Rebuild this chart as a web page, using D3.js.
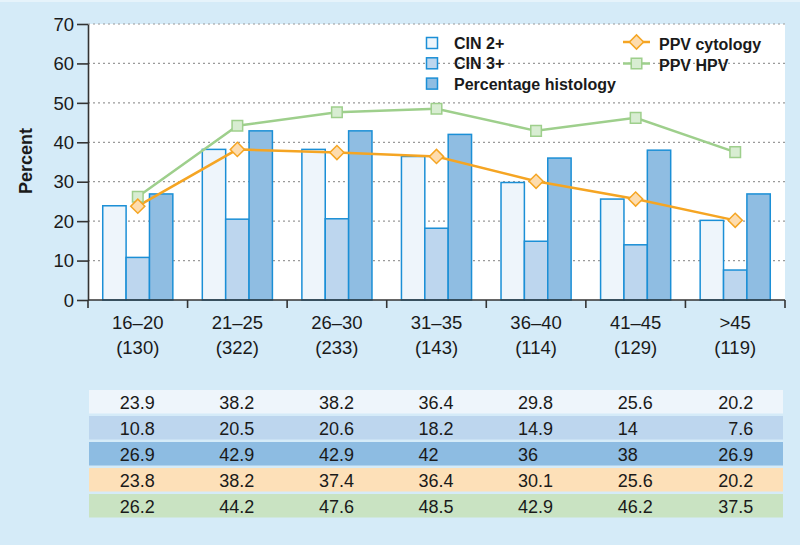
<!DOCTYPE html>
<html>
<head>
<meta charset="utf-8">
<script src="https://cdn.jsdelivr.net/npm/d3@7"></script>
<style>
  html, body { margin: 0; padding: 0; background: #d5ebf8; }
  svg { display: block; }
  text { font-family: "Liberation Sans", Arial, sans-serif; fill: #1a1a1a; }
</style>
</head>
<body>
<svg id="chart" width="800" height="545"></svg>
<script>
// ---- data ----
const ageGroups = ["16–20", "21–25", "26–30", "31–35", "36–40", "41–45", ">45"];
const counts = ["(130)", "(322)", "(233)", "(143)", "(114)", "(129)", "(119)"];
const cin2 = [23.9, 38.2, 38.2, 36.4, 29.8, 25.6, 20.2];
const cin3 = [10.8, 20.5, 20.6, 18.2, 14.9, 14, 7.6];
const histology = [26.9, 42.9, 42.9, 42, 36, 38, 26.9];
const ppvCytology = [23.8, 38.2, 37.4, 36.4, 30.1, 25.6, 20.2];
const ppvHpv = [26.2, 44.2, 47.6, 48.5, 42.9, 46.2, 37.5];
const yTicks = [0, 10, 20, 30, 40, 50, 60, 70];
const barSeriesNames = ["CIN 2+", "CIN 3+", "Percentage histology"];
const lineSeriesNames = ["PPV cytology", "PPV HPV"];

// ---- styles ----
const barFills = ["#eef5fb", "#bdd6ee", "#8fbde2"];
const barStroke = "#1b8fd6";
const orange = "#f5a523", orangeFill = "#fddcae";
const green = "#9ecf8c", greenFill = "#d8edd2";
const rowFills = ["#eef5fb", "#bdd6ee", "#8dbce2", "#fde0b8", "#c9e3c2"];

const svg = d3.select("#chart");
const mLeft = 88, mRight = 785, mTop = 24, mBottom = 300;

// thin lighter frame at the top edge
svg.append("rect").attr("x", 0).attr("y", 0).attr("width", 800).attr("height", 2).attr("fill", "#e6f3fb");

const x = d3.scaleBand().domain(ageGroups).range([mLeft, mRight]);
const bw = x.bandwidth();
const x1 = d3.scaleBand().domain([0, 1, 2]).range([bw * 0.148, bw * 0.852]);
const y = d3.scaleLinear().domain([0, 70]).range([mBottom, mTop]);

// plot background
svg.append("rect").attr("x", mLeft).attr("y", y(70)).attr("width", mRight - mLeft)
  .attr("height", y(0) - y(70)).attr("fill", "#ffffff");

// gridlines
svg.append("g").selectAll("line").data(yTicks.filter(d => d > 0)).join("line")
  .attr("x1", mLeft).attr("x2", mRight)
  .attr("y1", d => y(d)).attr("y2", d => y(d))
  .attr("stroke", "#9a9a9a").attr("stroke-width", 1.2)
  .attr("stroke-dasharray", "2,3");

// bars
const barData = [cin2, cin3, histology];
const groups = svg.append("g").selectAll("g").data(ageGroups).join("g")
  .attr("transform", d => `translate(${x(d)},0)`);
groups.selectAll("rect").data((d, i) => barData.map((s, k) => ({k, v: s[i]}))).join("rect")
  .attr("x", d => x1(d.k)).attr("width", x1.bandwidth())
  .attr("y", d => y(d.v)).attr("height", d => y(0) - y(d.v))
  .attr("fill", d => barFills[d.k]).attr("stroke", barStroke).attr("stroke-width", 1.5);

// lines
const line = d3.line().x((d, i) => x(ageGroups[i]) + bw / 2).y(d => y(d));
svg.append("path").datum(ppvHpv).attr("d", line).attr("fill", "none")
  .attr("stroke", green).attr("stroke-width", 2.5);
svg.append("path").datum(ppvCytology).attr("d", line).attr("fill", "none")
  .attr("stroke", orange).attr("stroke-width", 2.5);

const sq = d3.symbol().type(d3.symbolSquare).size(112);
const dm = d3.symbol().type(d3.symbolSquare).size(100); // rotated 45° => square diamond
svg.append("g").selectAll("path").data(ppvHpv).join("path")
  .attr("d", sq).attr("transform", (d, i) => `translate(${x(ageGroups[i]) + bw / 2},${y(d)})`)
  .attr("fill", greenFill).attr("stroke", green).attr("stroke-width", 1.5);
svg.append("g").selectAll("path").data(ppvCytology).join("path")
  .attr("d", dm).attr("transform", (d, i) => `translate(${x(ageGroups[i]) + bw / 2},${y(d)}) rotate(45)`)
  .attr("fill", orangeFill).attr("stroke", orange).attr("stroke-width", 1.5);

// y axis (line + ticks from the axis generator, labels set explicitly)
const yAxis = svg.append("g").attr("transform", `translate(${mLeft},0)`)
  .call(d3.axisLeft(y).tickValues(yTicks).tickSize(11).tickSizeOuter(0).tickFormat(""));
yAxis.select(".domain").attr("stroke", "#333").attr("stroke-width", 1.6);
yAxis.selectAll(".tick line").attr("stroke", "#333").attr("stroke-width", 1.6);
svg.append("g").selectAll("text").data(yTicks).join("text")
  .attr("x", mLeft - 14).attr("y", d => y(d)).attr("dy", "0.36em")
  .attr("text-anchor", "end").style("font-size", "18.5px").text(d => d);

// x axis
const xAxisG = svg.append("g");
xAxisG.append("line").attr("x1", mLeft).attr("x2", mRight).attr("y1", mBottom).attr("y2", mBottom)
  .attr("stroke", "#333").attr("stroke-width", 1.6);
const boundaries = ageGroups.map(d => x(d)).concat([x(ageGroups[ageGroups.length - 1]) + bw]);
xAxisG.selectAll("line.tk").data(boundaries).join("line").attr("class", "tk")
  .attr("x1", d => d).attr("x2", d => d).attr("y1", mBottom).attr("y2", mBottom + 8)
  .attr("stroke", "#333").attr("stroke-width", 1.6);
const xl = svg.append("g").selectAll("text").data(ageGroups).join("text")
  .attr("x", d => x(d) + bw / 2).attr("text-anchor", "middle").style("font-size", "18.5px");
xl.append("tspan").attr("x", d => x(d) + bw / 2).attr("y", 329).text(d => d);
xl.append("tspan").attr("x", d => x(d) + bw / 2).attr("y", 354).text((d, i) => counts[i]);

// y title
svg.append("text").attr("transform", "translate(32,161) rotate(-90)")
  .attr("text-anchor", "middle").style("font-size", "18px").attr("font-weight", "bold").text("Percent");

// legend (bars)
const lg = svg.append("g");
barSeriesNames.forEach((name, k) => {
  const yy = 37.5 + k * 20.3;
  lg.append("rect").attr("x", 426.5).attr("y", yy).attr("width", 11).attr("height", 11)
    .attr("fill", barFills[k]).attr("stroke", barStroke).attr("stroke-width", 1.5);
  lg.append("text").attr("x", 454).attr("y", yy + 11.5).style("font-size", "16px")
    .attr("font-weight", "bold").text(name);
});
// legend (lines)
const lineCols = [[orange, orangeFill, dm, 45], [green, greenFill, sq, 0]];
lineSeriesNames.forEach((name, k) => {
  const yy = 42 + k * 21.5;
  const [c, f, sym, rot] = lineCols[k];
  lg.append("line").attr("x1", 623).attr("x2", 650).attr("y1", yy).attr("y2", yy)
    .attr("stroke", c).attr("stroke-width", 2.5);
  lg.append("path").attr("d", sym).attr("transform", `translate(636.5,${yy}) rotate(${rot})`)
    .attr("fill", f).attr("stroke", c).attr("stroke-width", 1.5);
  lg.append("text").attr("x", 659).attr("y", yy + 7.5).style("font-size", "16px")
    .attr("font-weight", "bold").text(name);
});

// data table
const tableRows = [cin2, cin3, histology, ppvCytology, ppvHpv];
const tg = svg.append("g");
tableRows.forEach((row, r) => {
  const ry = 390 + r * 26;
  tg.append("rect").attr("x", 89).attr("y", ry).attr("width", 694).attr("height", 23.5)
    .attr("fill", rowFills[r]);
  tg.selectAll(null).data(row).join("text")
    .attr("x", (d, i) => i === row.length - 1 ? x(ageGroups[i]) + bw / 2 + 18 : x(ageGroups[i]) + bw / 2 - 18)
    .attr("text-anchor", (d, i) => i === row.length - 1 ? "end" : "start")
    .attr("y", ry + 18.5).style("font-size", "18px")
    .text(d => String(d));
});
</script>
</body>
</html>
